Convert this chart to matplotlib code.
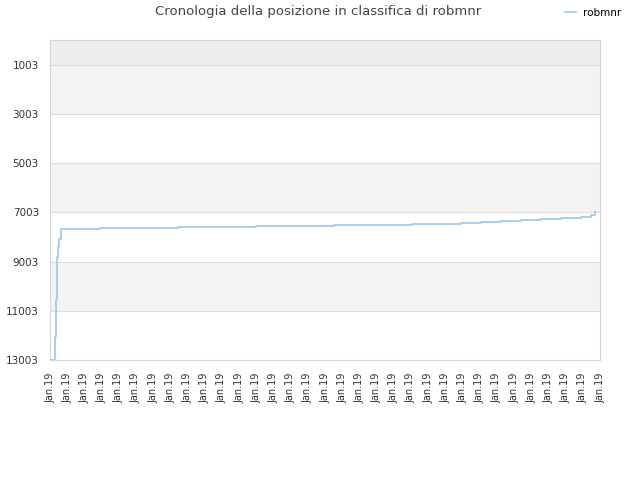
"""
Ranking history chart for robmnr.
"""

import matplotlib
matplotlib.use("Agg")
import matplotlib.pyplot as plt

# ----------------------------------------------------
# Data
# ----------------------------------------------------

player = "robmnr"

# day index along the x axis (0 .. 32, one tick per label)
days = [0.06, 0.27, 0.33, 0.41, 0.47, 0.52, 0.62, 0.64, 2.91, 7.45,
        11.98, 16.52, 21.06, 23.33, 23.91, 25.07, 26.24, 27.40, 28.56,
        29.73, 30.89, 31.45, 31.70]

ranks = [12990, 12070, 10580, 8805, 8416, 8103, 7697, 7685, 7656, 7616,
         7575, 7535, 7494, 7466, 7441, 7401, 7360, 7320, 7279,
         7239, 7198, 7100, 7008]

tick_positions = list(range(33))
tick_labels = ["Jan.19"] * len(tick_positions)

y_ticks = [1003, 3003, 5003, 7003, 9003, 11003, 13003]

# ----------------------------------------------------
# Figure
# ----------------------------------------------------

fig = plt.figure(figsize=(6.4, 4.8), dpi=100)
ax = fig.add_axes([50 / 640, 120 / 480, 550 / 640, 320 / 480])

ax.set_xlim(0, 32)
ax.set_ylim(13003, 3)

# alternating bands
ax.axhspan(3, 1003, color="#eeeeee", zorder=0, lw=0)
for lo in [1003, 5003, 9003]:
    ax.axhspan(lo, lo + 2000, color="#f3f3f3", zorder=0, lw=0)

for y in y_ticks:
    ax.axhline(y, color="#dddddd", lw=0.8, zorder=1)

ax.plot(
    days,
    ranks,
    drawstyle="steps-post",
    color="#9ecbf5",
    lw=1.3,
    zorder=3,
    label=player
)

ax.set_yticks(y_ticks)
ax.set_yticklabels([str(v) for v in y_ticks], fontsize=7.5, color="#333333")
ax.set_xticks(tick_positions)
ax.set_xticklabels(tick_labels, rotation=90, fontsize=7, color="#333333")
ax.tick_params(axis="y", length=0, pad=8)
ax.tick_params(axis="x", length=0, pad=9)

for side in ["left", "right", "top", "bottom"]:
    ax.spines[side].set_color("#d5d5d5")
    ax.spines[side].set_linewidth(0.8)

fig.text(
    318 / 640, 1 - 12 / 480,
    "Cronologia della posizione in classifica di robmnr",
    ha="center", va="center", fontsize=9.5, color="#444444"
)

fig.legend(
    loc="center left",
    bbox_to_anchor=(556 / 640, 1 - 13 / 480),
    frameon=False,
    fontsize=7.5,
    handlelength=1.0,
    handletextpad=0.7
)

plt.savefig("out.png", dpi=100)
plt.close()
